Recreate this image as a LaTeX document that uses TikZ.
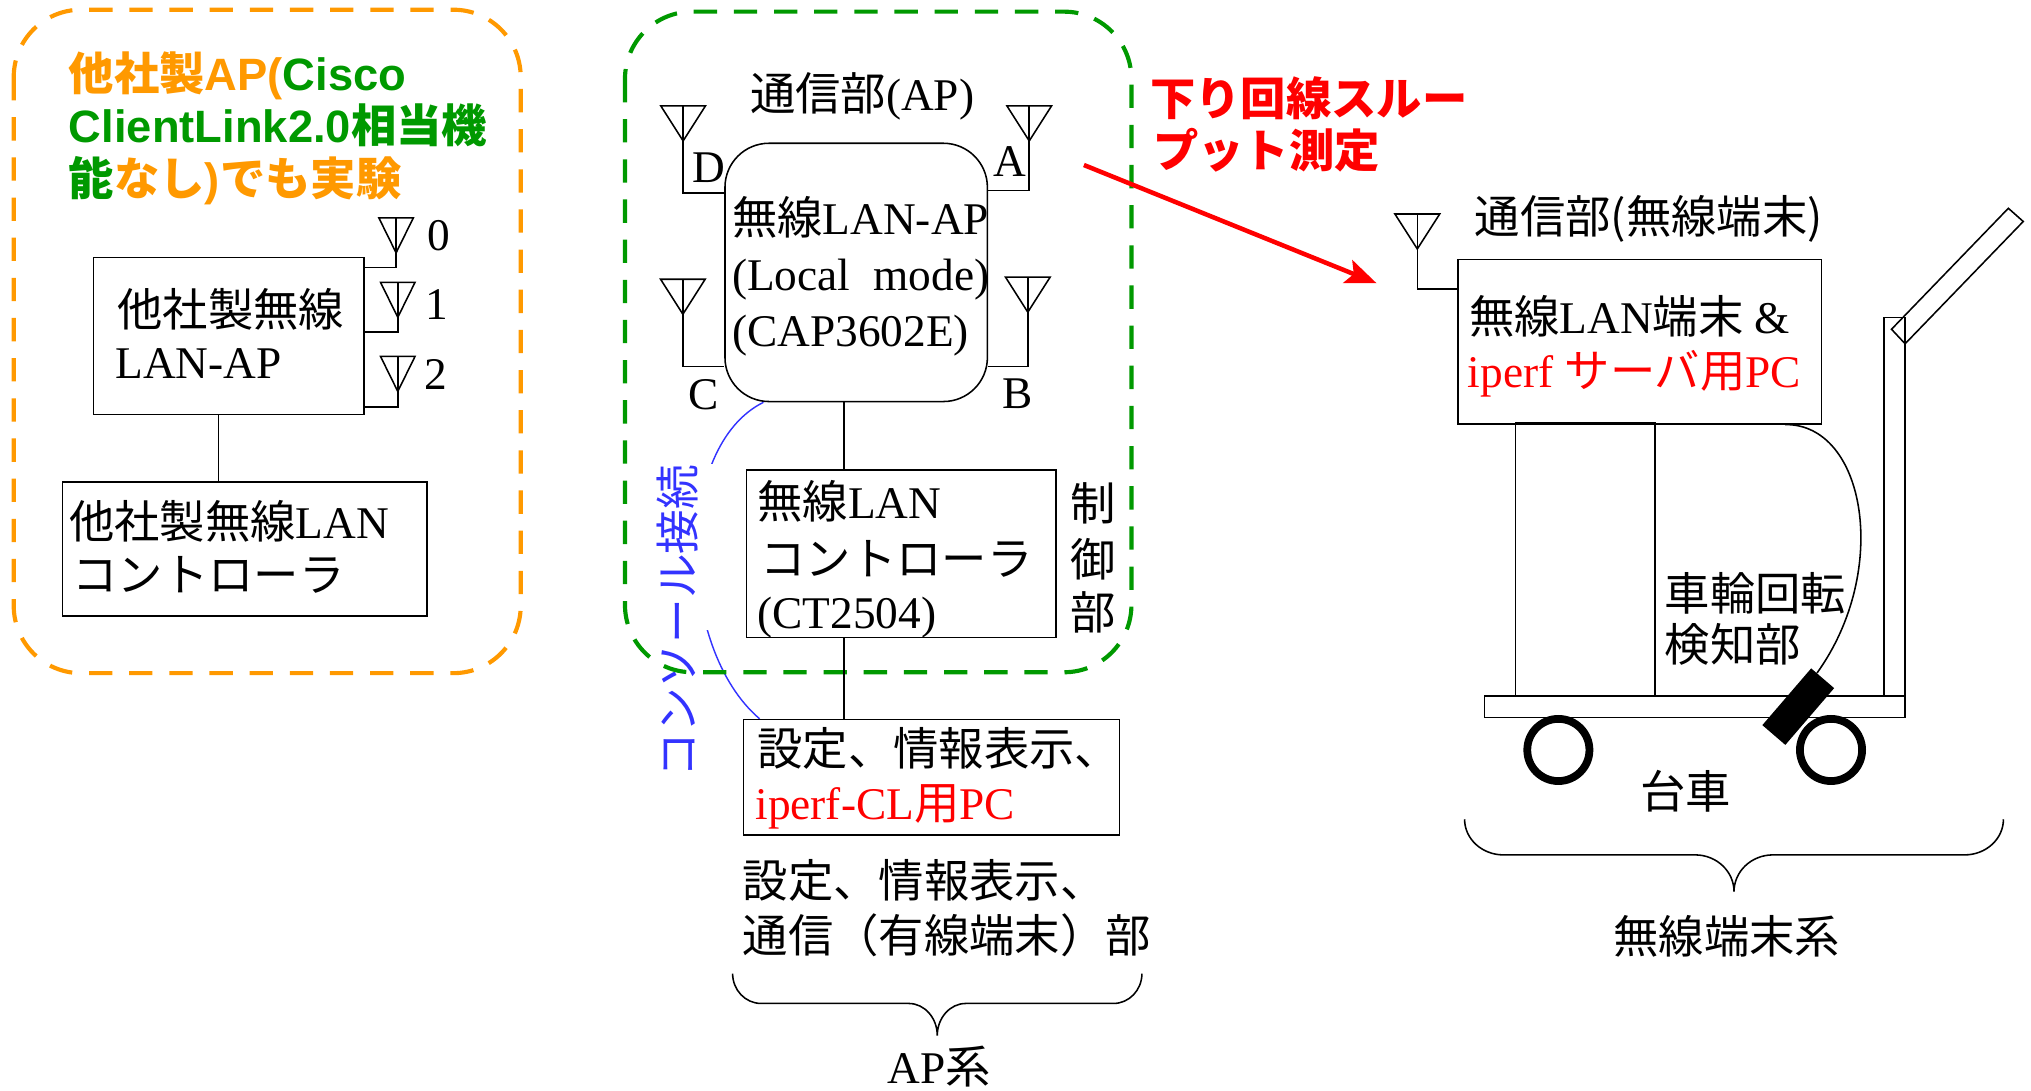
\documentclass[tikz,border=0pt]{standalone}
\usepackage{fontspec}
\setmainfont{Liberation Serif}
\newfontfamily\jpfont{Noto Sans CJK JP}
\newfontfamily\lsans{Liberation Sans}
\usetikzlibrary{arrows.meta,calc}
\newcommand\J[1]{{\jpfont #1}}
\definecolor{apOrange}{RGB}{255,153,0}
\definecolor{apGreen}{RGB}{0,153,0}
\definecolor{conBlue}{RGB}{51,51,255}
\definecolor{mRed}{RGB}{255,0,0}

\begin{document}
\begin{tikzpicture}[x=1pt,y=-1pt,
  wire/.style={line width=1.2pt},
  box/.style={draw, line width=1.2pt, inner sep=0pt},
  grp/.style={line width=3.2pt, dash pattern=on 18pt off 13pt, rounded corners=52pt},
  txt/.style={inner sep=0pt, anchor=base west, font=\fontsize{35}{42}\selectfont},
  ctext/.style={inner sep=0pt, anchor=center, font=\fontsize{35}{42}\selectfont},
  boldtxt/.style={txt, font=\fontsize{35}{42}\selectfont\bfseries},
  pics/antenna/.style={code={
    \draw[wire, line join=miter] (-#1,0) -- (#1,0) -- (0,27) -- cycle;
    \draw[wire] (0,0) -- (0,27);
    \coordinate (-tip) at (0,27);
  }},
  pics/brace/.style n args={4}{code={
    \draw[wire] (-#1,0) .. controls (-#1,0.552*#2) and (-#1+0.448*#4,#2) .. (-#1+#4,#2)
      -- (-#4,#2) .. controls (-0.448*#4,#2) and (0,#2+0.448*#3-0.448*#2) .. (0,#3)
      .. controls (0,#2+0.448*#3-0.448*#2) and (0.448*#4,#2) .. (#4,#2)
      -- (#1-#4,#2) .. controls (#1-0.448*#4,#2) and (#1,0.552*#2) .. (#1,0);
  }},
]
\useasboundingbox (0,0) rectangle (1568,842);
\fill[white] (0,0) rectangle (1568,842);

% ---------- third-party AP group ----------
\draw[grp, apOrange] (10.6,7.5) rectangle (402,519.7);
\node[boldtxt] (h1) at (53,69.6) {\color{apOrange}\J{他社製}\lsans AP(\color{apGreen}Cisco};
\node[boldtxt] (h2) at (53,110.4) {\color{apGreen}\lsans ClientLink2.0\J{相当機}};
\node[boldtxt] (h3) at (53,151) {\color{apGreen}\J{能}\color{apOrange}\J{なし}\lsans )\J{でも実験}};

\node[box, minimum width=208.7pt, minimum height=121.3pt] (apl) at (176.65,259.35) {};
\node[txt] (apl1) at (90.4,252) {\J{他社製無線}};
\node[txt] (apl2) at (89,292) {LAN-AP};

\pic (a0) at (305.8,168.2) {antenna=13.3};
\pic (a1) at (307.1,218) {antenna=13.3};
\pic (a2) at (307.1,275.2) {antenna=13.3};
\draw[wire] (a0-tip) |- (apl.east |- 0,206.5);
\draw[wire] (a1-tip) |- (apl.east |- 0,256.5);
\draw[wire] (a2-tip) |- (apl.east |- 0,314.2);
\node[txt] (l0) at (329.7,193.6) {0};
\node[txt] (l1) at (328.4,246.3) {1};
\node[txt] (l2) at (327.6,300.6) {2};

\node[box, minimum width=281.3pt, minimum height=103.6pt] (lcl) at (189.05,423.8) {};
\node[txt] (lcl1) at (53.2,415.5) {\J{他社製無線}LAN};
\node[txt] (lcl2) at (55.8,456.5) {\J{コントローラ}};
\coordinate (lspine) at (168.8,0);
\draw[wire] (apl.south -| lspine) -- (lcl.north -| lspine);

% ---------- AP system ----------
\node[box, rounded corners=34pt, minimum width=202.6pt, minimum height=199.4pt] (ap) at (661,210.3) {};
\node[box, minimum width=239.2pt, minimum height=129.5pt] (ctl) at (695.8,427.45) {};
\node[box, minimum width=290.2pt, minimum height=89.3pt] (pc) at (719.1,600.15) {};

% console cable
\draw[conBlue, line width=1.1pt] ([xshift=30.3pt]ap.south west) .. controls (520,345) and (522,500) .. ([xshift=13pt]pc.north west);
\fill[white] (498,358) rectangle (556,486);
\node[ctext, rotate=90, text=conBlue, font=\fontsize{34.5}{40}\selectfont] (con) at (523.1,479.5) {\J{コンソール接続}};

\draw[grp, apGreen] (482.5,9) rectangle (873.5,519);

\node[txt] (ap0) at (578.9,85) {\J{通信部}(AP)};
\node[txt] (ap1) at (565,181.4) {\J{無線}LAN-AP};
\node[txt] (ap2) at (565,223.9) {\makebox[198.5pt][l]{(Local\hfill mode)}};
\node[txt] (ap3) at (565,267.6) {(CAP3602E)};

\pic (aD) at (527.4,81.8) {antenna=17.2};
\pic (aA) at (794.6,81.8) {antenna=17.2};
\pic (aC) at (527.2,215.6) {antenna=17.2};
\pic (aB) at (793.5,214) {antenna=17.2};
\draw[wire] (aD-tip) |- (ap.west |- 0,149.2);
\draw[wire] (aA-tip) |- (ap.east |- 0,147.2);
\draw[wire] (aC-tip) |- (ap.west |- 0,283);
\draw[wire] (aB-tip) |- (ap.east |- 0,283);
\node[txt] (lD) at (534.3,141) {D};
\node[txt] (lA) at (766.5,135.9) {A};
\node[txt] (lC) at (531.6,316.5) {C};
\node[txt] (lB) at (773.4,315.2) {B};

\node[txt] (ctl1) at (584.5,400.4) {\J{無線}LAN};
\node[txt] (ctl2) at (587,444) {\J{コントローラ}};
\node[txt] (ctl3) at (584.5,485) {(CT2504)};
\node[ctext] (s1) at (844,388.6) {\J{制}};
\node[ctext] (s2) at (844,431.6) {\J{御}};
\node[ctext] (s3) at (844,472.8) {\J{部}};

\coordinate (spine) at (651.4,0);
\draw[wire] (ap.south -| spine) -- (ctl.north -| spine);
\draw[wire] (ctl.south -| spine) -- (pc.north -| spine);

\node[txt] (pc1) at (584.5,591) {\J{設定、情報表示、}};
\node[txt, text=mRed] (pc2) at (583,632.6) {iperf-CL\J{用}PC};

\node[txt] (cap1) at (573.4,693) {\J{設定、情報表示、}};
\node[txt] (cap2) at (573.4,735.5) {\J{通信（有線端末）部}};
\pic (br1) at (723.6,751.6) {brace={158}{23.1}{47.9}{22}};
\node[txt, anchor=base] (cap3) at (725,836.5) {AP\J{系}};

% ---------- downlink measurement ----------
\coordinate (rs) at (836.8,127.4);
\coordinate (re) at (1062.8,218.7);
\draw[mRed, line width=3.5pt, -{Stealth[length=24pt,width=19pt,inset=5pt]}] (rs) -- (re);
\node[boldtxt, text=mRed] (m1) at (887.8,89) {\J{下り回線スルー}};
\node[boldtxt, text=mRed] (m2) at (890,129) {\J{プット測定}};

% ---------- wireless terminal on cart ----------
\node[txt] (tr0) at (1138.4,180) {\J{通信部(無線端末)}};
\node[box, minimum width=280.3pt, minimum height=126.8pt] (trm) at (1265.95,263.8) {};
\pic (aT) at (1094.2,165.2) {antenna=17.3};
\draw[wire] (aT-tip) |- (trm.west |- 0,223.3);
\node[txt] (tr1) at (1134,257.5) {\J{無線}LAN\J{端末} \&};
\node[txt, text=mRed] (tr2) at (1133,299) {iperf \J{サーバ用}PC};

\draw[wire] (1170,326.2) rectangle (1277.7,537.4);
\draw[wire] (1454.3,245.2) rectangle (1470.8,537.4);
\draw[wire] (1460.3,254.2) -- (1470.8,265.4) -- (1562,171) -- (1550.5,160.8) -- cycle;
\draw[wire] (1146,537.4) rectangle (1470.8,554);
\draw[line width=6pt] (1203.1,579) circle[radius=24pt];
\draw[line width=6pt] (1413.6,579) circle[radius=24pt];
\node[fill=black, inner sep=0pt, minimum width=57.8pt, minimum height=23.4pt, rotate=49.3] (sensor) at (1388.3,545.55) {};
\draw[wire] ($(trm.south east)+(-28.5,0)$) .. controls (1440,327) and (1460,440) .. ($(sensor.east)!0.5!(sensor.north east)$);

\node[txt] (c1) at (1285.2,471) {\J{車輪回転}};
\node[txt] (c2) at (1285.2,511) {\J{検知部}};
\node[txt] (c3) at (1266.3,624.5) {\J{台車}};
\pic (br2) at (1338.7,632.5) {brace={208}{27.5}{55.9}{30}};
\node[txt] (c4) at (1245.5,736) {\J{無線端末系}};
\end{tikzpicture}
\end{document}
